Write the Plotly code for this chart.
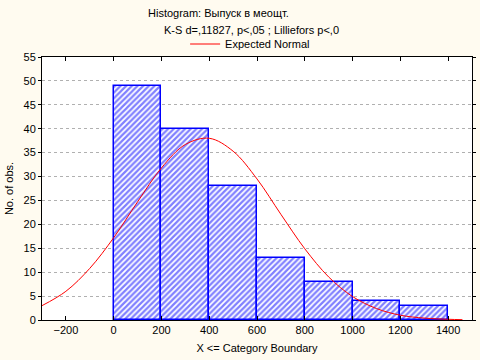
import plotly.graph_objects as go

bin_edges = [0, 200, 400, 600, 800, 1000, 1200, 1400]
counts = [49, 40, 28, 13, 8, 4, 3]

curve_x = [-300, -200, -100, 0, 100, 200, 300, 400, 500, 600, 700, 800, 900,
           1000, 1100, 1200, 1300, 1400, 1460]
curve_y = [3.0, 6.0, 10.8, 17.2, 24.7, 31.8, 36.7, 38.0, 35.3, 29.5, 22.1, 14.9,
           9.0, 4.9, 2.4, 1.0, 0.4, 0.15, 0.07]

x_ticks = [-200, 0, 200, 400, 600, 800, 1000, 1200, 1400]
y_ticks = list(range(0, 56, 5))

title1 = "Histogram: Выпуск в меощт."
title2 = "K-S d=,11827, p<,05 ; Lilliefors p<,0"
legend_name = "Expected Normal"
x_title = "X <= Category Boundary"
y_title = "No. of obs."

centers = [(a + b) / 2 for a, b in zip(bin_edges[:-1], bin_edges[1:])]
widths = [b - a for a, b in zip(bin_edges[:-1], bin_edges[1:])]

FONT = "Liberation Sans, Arial, sans-serif"
BG = "#FFFBF0"

fig = go.Figure()
fig.add_trace(go.Bar(
    x=centers, y=counts, width=widths, showlegend=False,
    marker=dict(color="white",
                line=dict(color="#0000FF", width=1.5),
                pattern=dict(shape="/", fgcolor="#0000FF", bgcolor="white",
                             size=4, solidity=0.55)),
))
fig.add_trace(go.Scatter(
    x=curve_x, y=curve_y, mode="lines", name=legend_name,
    line=dict(color="#FF0000", width=1, shape="spline"),
))

fig.update_layout(
    width=480, height=360,
    margin=dict(l=42, r=8, t=57, b=40, autoexpand=False),
    paper_bgcolor=BG, plot_bgcolor="white",
    font=dict(family=FONT, size=11, color="black"),
    bargap=0,
    legend=dict(orientation="h", x=0.484, xanchor="center", y=(320 - 44) / 263, yanchor="middle",
                bgcolor="rgba(0,0,0,0)", font=dict(size=11), itemwidth=30),
    xaxis=dict(range=[-300, 1500], tickvals=x_ticks, showgrid=False, zeroline=False,
               automargin=False,
               showline=True, linecolor="black", linewidth=1, mirror="ticks",
               ticks="inside", ticklen=4, tickcolor="black",
               title=dict(text=x_title, standoff=9, font=dict(size=11))),
    yaxis=dict(range=[0, 55], tickvals=y_ticks, showgrid=True, gridcolor="#B0B0B0",
               griddash="dot", gridwidth=1, zeroline=False, automargin=False,
               showline=True, linecolor="black", linewidth=1, mirror="ticks",
               ticks="outside", ticklen=3, tickcolor="black",
               title=dict(text=y_title, standoff=7, font=dict(size=11))),
    annotations=[
        dict(text=title1, xref="paper", yref="paper", x=0.242, y=(320 - 13) / 263,
             xanchor="left", yanchor="middle", showarrow=False, font=dict(size=11)),
        dict(text=title2, xref="paper", yref="paper", x=0.279, y=(320 - 30) / 263,
             xanchor="left", yanchor="middle", showarrow=False, font=dict(size=11)),
    ],
)

fig.write_html(
    "out.html",
    config={"displayModeBar": False},
    post_script="document.body.style.margin='0';document.body.style.background='%s';" % BG,
)
